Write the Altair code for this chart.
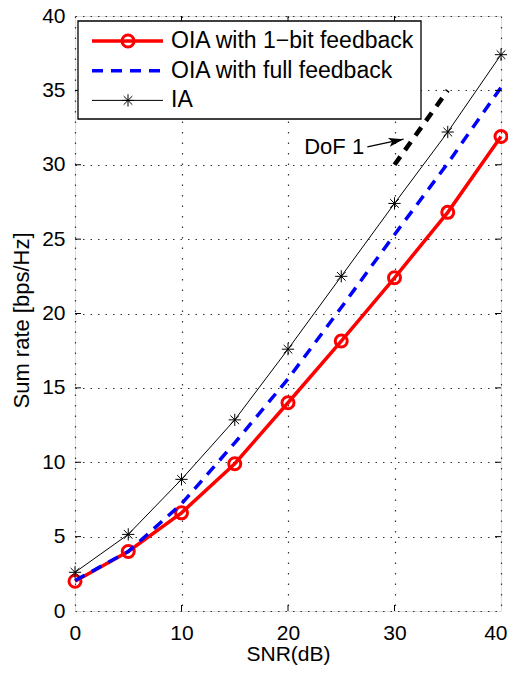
import math
import altair as alt
import pandas as pd

# ---- data ----
snr = [0, 5, 10, 15, 20, 25, 30, 35, 40]
oia_1bit = [2.0, 4.0, 6.6, 9.9, 14.0, 18.15, 22.4, 26.8, 31.9]
oia_full = [2.05, 4.0, 7.2, 11.3, 15.6, 20.4, 25.3, 30.1, 35.2]
ia = [2.6, 5.15, 8.85, 12.85, 17.6, 22.5, 27.4, 32.2, 37.4]
series_names = ["OIA with 1\u2212bit feedback", "OIA with full feedback", "IA"]

dof_snr = [30, 35]
dof_rate = [30, 35]
dof_label = "DoF 1"
dof_label_at = [27.15, 31.2]
arrow_from = [27.45, 31.2]
arrow_to = [30.85, 31.72]

x_ticks = [0, 10, 20, 30, 40]
y_ticks = [0, 5, 10, 15, 20, 25, 30, 35, 40]

# ---- layout ----
W, H = 426, 595
FONT = "Liberation Sans"
TICK_FS = 21

xscale = alt.Scale(domain=[0, 40], nice=False, zero=False)
yscale = alt.Scale(domain=[0, 40], nice=False, zero=False)

x_axis = alt.Axis(values=x_ticks, title="SNR(dB)", domain=False, ticks=False, tickSize=0,
                  grid=True, gridDash=[1.5, 9], gridColor="#333", gridWidth=1.2,
                  labelFontSize=TICK_FS, labelPadding=28, labelBaseline="alphabetic",
                  labelFlush=True, labelFlushOffset=6, labelOverlap=False,
                  labelColor="black", labelFont=FONT, labelAngle=0,
                  titleFontSize=21, titleFont=FONT, titleFontWeight="normal",
                  titleColor="black", titleBaseline="alphabetic", titleY=49)
y_axis = alt.Axis(values=y_ticks, title="Sum rate [bps/Hz]", domain=False, ticks=False, tickSize=0,
                  grid=True, gridDash=[1.5, 6], gridColor="#333", gridWidth=1.2,
                  labelFontSize=TICK_FS, labelPadding=10, labelColor="black", labelFont=FONT,
                  labelFlush=False, labelOverlap=False,
                  titleFontSize=22, titleFont=FONT, titleFontWeight="normal",
                  titleColor="black", titleBaseline="alphabetic", titleX=-47, titleY=304,
                  titleAngle=270)

X = alt.X("snr:Q", scale=xscale, axis=x_axis)
Y = alt.Y("rate:Q", scale=yscale, axis=y_axis)

STAR = "M-1,0H1M0,-1V1M-0.707,-0.707L0.707,0.707M-0.707,0.707L0.707,-0.707"
styles = [
    dict(color="#ff0000", width=3.5, dash=None, marker="circle", msize=144, mwidth=3),
    dict(color="#0000ff", width=3.5, dash=[11, 8], marker=None),
    dict(color="#000000", width=1, dash=None, marker=STAR, msize=150, mwidth=1),
]
values = [oia_1bit, oia_full, ia]

layers = []
for name, vals, st in zip(series_names, values, styles):
    df = pd.DataFrame({"snr": snr, "rate": vals})
    line_kw = dict(color=st["color"], strokeWidth=st["width"], clip=False)
    if st["dash"]:
        line_kw["strokeDash"] = st["dash"]
    layers.append(alt.Chart(df).mark_line(**line_kw).encode(x=X, y=Y))
    if st["marker"]:
        layers.append(alt.Chart(df).mark_point(shape=st["marker"], size=st["msize"],
                                               filled=False, strokeWidth=st["mwidth"],
                                               color=st["color"], opacity=1).encode(x=X, y=Y))

# DoF 1 reference line
dof_df = pd.DataFrame({"snr": dof_snr, "rate": dof_rate})
layers.append(alt.Chart(dof_df).mark_line(color="black", strokeWidth=4.5,
                                          strokeDash=[10, 8]).encode(x=X, y=Y))

# annotation text + arrow
txt_df = pd.DataFrame({"snr": [dof_label_at[0]], "rate": [dof_label_at[1]], "label": [dof_label]})
layers.append(alt.Chart(txt_df).mark_text(align="right", baseline="middle", fontSize=22,
                                          font=FONT, color="black").encode(x=X, y=Y, text="label:N"))
arr_df = pd.DataFrame({"snr": [arrow_from[0]], "rate": [arrow_from[1]],
                       "snr2": [arrow_to[0]], "rate2": [arrow_to[1]]})
layers.append(alt.Chart(arr_df).mark_rule(color="black", strokeWidth=1.3).encode(
    x=X, y=Y, x2="snr2:Q", y2="rate2:Q"))
dx_px = (arrow_to[0] - arrow_from[0]) * W / 40
dy_px = -(arrow_to[1] - arrow_from[1]) * H / 40
ang = math.degrees(math.atan2(dy_px, dx_px)) % 360
head_df = pd.DataFrame({"snr": [arrow_to[0]], "rate": [arrow_to[1]]})
layers.append(alt.Chart(head_df).mark_point(shape="M0,0L-2,-0.6L-1.55,0L-2,0.6Z", size=225,
                                            filled=True, color="black", opacity=1,
                                            angle=ang).encode(x=X, y=Y))

# inward ticks on all four sides
yt = pd.DataFrame({"rate": y_ticks[1:-1]})
xt = pd.DataFrame({"snr": x_ticks[1:-1]})
TL = 6
layers.append(alt.Chart(yt).mark_rule(color="black", strokeWidth=1).encode(
    y=Y, x=alt.value(0), x2=alt.value(TL)))
layers.append(alt.Chart(yt).mark_rule(color="black", strokeWidth=1).encode(
    y=Y, x=alt.value(W - TL), x2=alt.value(W)))
layers.append(alt.Chart(xt).mark_rule(color="black", strokeWidth=1).encode(
    x=X, y=alt.value(H - TL), y2=alt.value(H)))
layers.append(alt.Chart(xt).mark_rule(color="black", strokeWidth=1).encode(
    x=X, y=alt.value(0), y2=alt.value(TL)))

# legend box
one = pd.DataFrame({"k": [0]})
layers.append(alt.Chart(one).mark_rect(fill="white", stroke="black", strokeWidth=1.3).encode(
    x=alt.value(3), x2=alt.value(346), y=alt.value(5), y2=alt.value(103)))
for i, (name, st) in enumerate(zip(series_names, styles)):
    ry = 25 + i * 29.7
    row = pd.DataFrame({"label": [name]})
    rk = dict(color=st["color"], strokeWidth=st["width"])
    if st["dash"]:
        rk["strokeDash"] = st["dash"]
    layers.append(alt.Chart(row).mark_rule(**rk).encode(
        x=alt.value(17), x2=alt.value(88), y=alt.value(ry)))
    if st["marker"]:
        layers.append(alt.Chart(row).mark_point(shape=st["marker"], size=st["msize"], filled=False,
                                                strokeWidth=st["mwidth"], color=st["color"],
                                                opacity=1).encode(x=alt.value(53), y=alt.value(ry)))
    layers.append(alt.Chart(row).mark_text(align="left", baseline="middle", fontSize=23,
                                           font=FONT, color="black").encode(
        x=alt.value(96), y=alt.value(ry), text="label:N"))

chart = alt.layer(*layers).properties(
    width=W, height=H,
    autosize=alt.AutoSizeParams(type="none"),
    padding={"left": 67, "top": 8, "right": 7, "bottom": 54},
).configure_view(stroke="black", strokeWidth=1.5).configure(background="white")

chart.save("out.html", embed_options={"renderer": "svg", "actions": False})
